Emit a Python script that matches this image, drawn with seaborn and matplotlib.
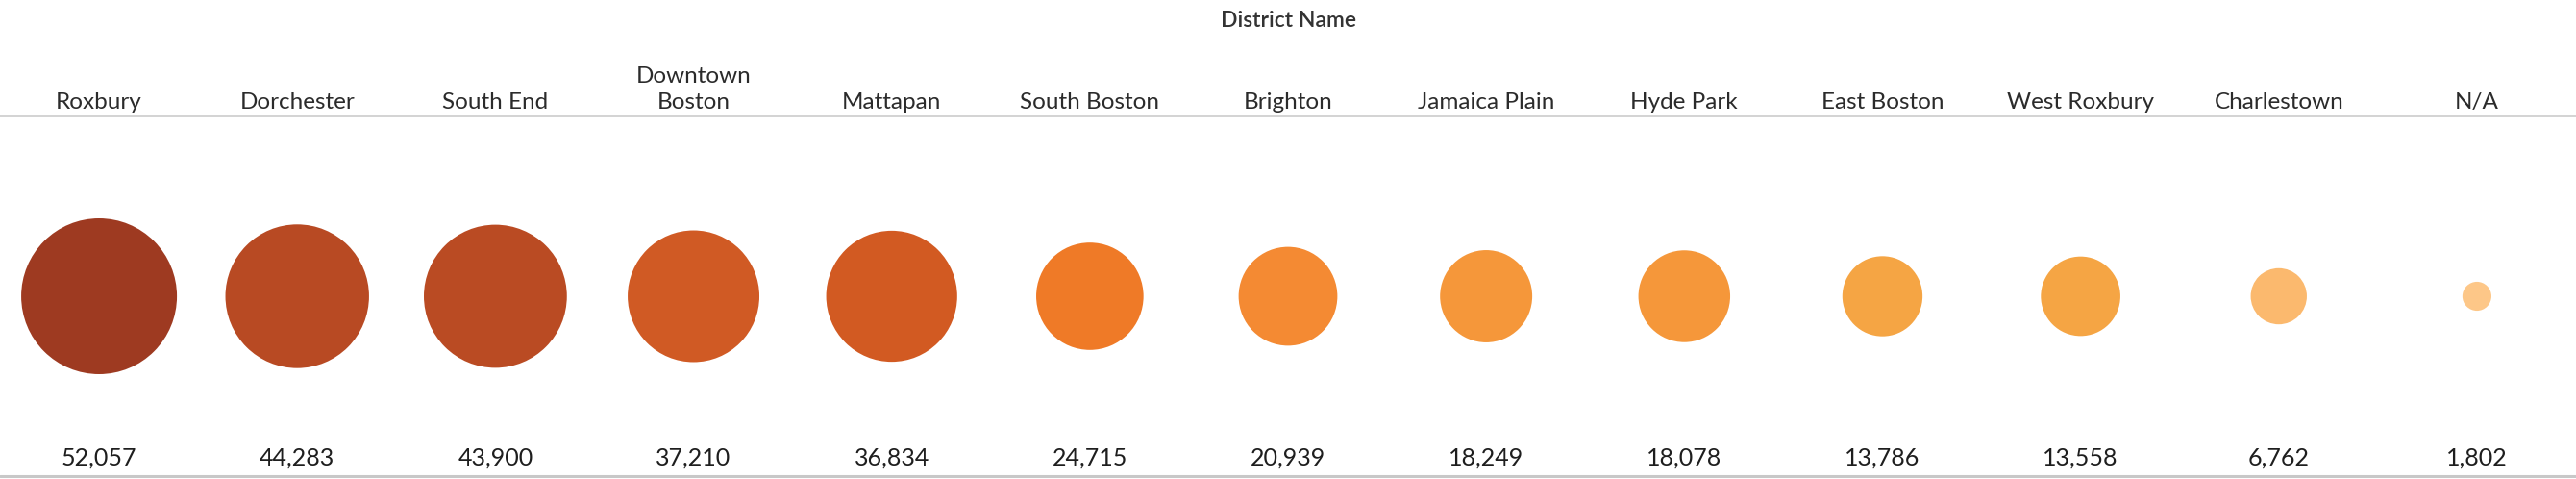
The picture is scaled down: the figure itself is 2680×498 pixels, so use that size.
import pandas as pd
import matplotlib
matplotlib.use('Agg')
import matplotlib.pyplot as plt
import seaborn as sns

districts = ['Roxbury', 'Dorchester', 'South End', 'Downtown\nBoston', 'Mattapan',
             'South Boston', 'Brighton', 'Jamaica Plain', 'Hyde Park', 'East Boston',
             'West Roxbury', 'Charlestown', 'N/A']
incidents = [52057, 44283, 43900, 37210, 36834, 24715, 20939, 18249, 18078,
             13786, 13558, 6762, 1802]
colors = ['#9e3a21', '#b84a23', '#ba4b23', '#d05a24', '#d25a22', '#ef7a27', '#f48a33',
          '#f5973a', '#f5973a', '#f5a544', '#f5a544', '#fbb96e', '#fdc788']

df = pd.DataFrame({'district': districts, 'incidents': incidents})
df['row'] = 308  # vertical position of the bubble row (pixels from top)

sns.set_style('white')
plt.rcParams['font.family'] = ['Lato', 'DejaVu Sans']

W, H, DPI = 2680, 498, 100
fig = plt.figure(figsize=(W / DPI, H / DPI), dpi=DPI)
ax = fig.add_axes([0, 0, 1, 1])

# area proportional to value: biggest bubble ~162 px across
max_d_pt = 162 * 72 / DPI
sns.scatterplot(data=df, x='district', y='row', hue='district', size='incidents',
                palette=dict(zip(districts, colors)),
                sizes=(0, max_d_pt ** 2), size_norm=(0, max(incidents)),
                linewidth=0, legend=False, ax=ax)

ax.set_xlim(-0.5, len(districts) - 0.5)
ax.set_ylim(H, 0)
ax.axis('off')

for i, (name, val) in enumerate(zip(districts, incidents)):
    ax.text(i, 117, name, ha='center', va='bottom', fontsize=17.5,
            color='#2b2b2b', linespacing=1.35)
    ax.text(i, 484, f'{val:,}', ha='center', va='baseline', fontsize=18,
            color='#1e1e1e')

fig.text(0.5, 1 - 22 / H, 'District Name', ha='center', va='center',
         fontsize=16.5, fontweight='semibold', color='#333333')

ax.axhline(120.5, color='#c8c8c8', lw=1.1)
ax.axhline(495, color='#c8c8c8', lw=2.2)

fig.savefig('out.png', dpi=DPI)
